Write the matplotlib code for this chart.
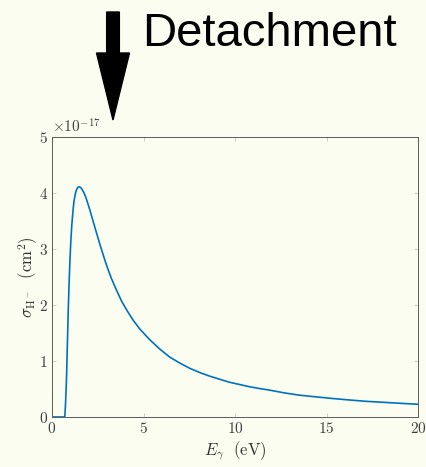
import matplotlib
matplotlib.use('Agg')
import matplotlib.pyplot as plt
from matplotlib.patches import FancyArrow
from matplotlib.ticker import ScalarFormatter
import numpy as np

# H- photodetachment cross section, sigma in cm^2 (x 1e-17), photon energy in eV
energy_ev = [0.0, 0.70, 0.73, 0.76, 0.80, 0.84, 0.89, 0.94, 0.98, 1.03, 1.08,
             1.14, 1.20, 1.27, 1.34, 1.41, 1.48, 1.56, 1.65, 1.75, 1.85, 1.96,
             2.10, 2.25, 2.42, 2.60, 2.80, 3.00, 3.25, 3.53, 3.80, 4.10, 4.43,
             4.80, 5.34, 5.90, 6.43, 7.00, 7.52, 8.10, 8.61, 9.20, 9.70, 10.25,
             10.79, 11.30, 11.88, 12.70, 13.51, 14.40, 15.33, 16.20, 17.15,
             18.10, 19.00, 20.0]
sigma_e17 = [0.0, 0.0, 0.18, 0.40, 0.78, 1.30, 1.94, 2.45, 2.80, 3.15, 3.42,
             3.66, 3.85, 3.98, 4.06, 4.10, 4.11, 4.10, 4.06, 4.00, 3.92, 3.81,
             3.66, 3.49, 3.30, 3.10, 2.89, 2.69, 2.47, 2.26, 2.07, 1.90, 1.73,
             1.57, 1.38, 1.21, 1.07, 0.96, 0.87, 0.79, 0.73, 0.67, 0.62, 0.58,
             0.54, 0.51, 0.48, 0.43, 0.39, 0.36, 0.33, 0.305, 0.28,
             0.262, 0.245, 0.227]

bg = '#fcfdf1'
plt.rcParams['font.family'] = 'serif'
plt.rcParams['font.serif'] = ['cmr10']
plt.rcParams['mathtext.fontset'] = 'cm'
plt.rcParams['axes.formatter.use_mathtext'] = True
plt.rcParams['axes.unicode_minus'] = False

fig = plt.figure(figsize=(4.26, 4.67), dpi=100, facecolor=bg)
ax = fig.add_axes([0.1221, 0.1071, 0.8592, 0.5996], facecolor=bg)

ax.plot(energy_ev, np.array(sigma_e17) * 1e-17, color='#0072BD', lw=1.2)

ax.set_xlim(0, 20)
ax.set_ylim(0, 5e-17)
ax.set_xticks([0, 5, 10, 15, 20])
ax.set_yticks(np.arange(6) * 1e-17)
fmt = ScalarFormatter(useMathText=True)
fmt.set_powerlimits((0, 0))
ax.yaxis.set_major_formatter(fmt)

axis_col = '#5a5a5a'
for s in ax.spines.values():
    s.set_color(axis_col)
    s.set_linewidth(0.7)
ax.tick_params(direction='in', length=3, width=0.5, colors='#bbbbbb',
               labelcolor='#404040', labelsize=11, top=True, right=True, pad=3)
ax.yaxis.get_offset_text().set_fontsize(11)
ax.yaxis.get_offset_text().set_color('#404040')

ax.set_xlabel(r'$E_\gamma\ \ \mathrm{(eV)}$', fontsize=12, color='#303030', labelpad=2)
ax.set_ylabel(r'$\sigma_{\mathrm{H}^-}\ \ (\mathrm{cm}^2)$', fontsize=12, color='#303030')
ax.yaxis.set_label_coords(-0.032, 0.5)

# big arrow pointing down at the detachment curve
arrow = FancyArrow(1.13, 4.55, 0, -1.08, width=0.127, head_width=0.33,
                   head_length=0.67, length_includes_head=True,
                   color='black', transform=fig.dpi_scale_trans)
fig.patches.append(arrow)
fig.text(1.42 / 4.26, (467 - 46) / 467, 'Detachment', family='Liberation Sans',
         fontsize=34, color='black', ha='left', va='baseline')

fig.savefig('out.png', dpi=100, facecolor=bg)
